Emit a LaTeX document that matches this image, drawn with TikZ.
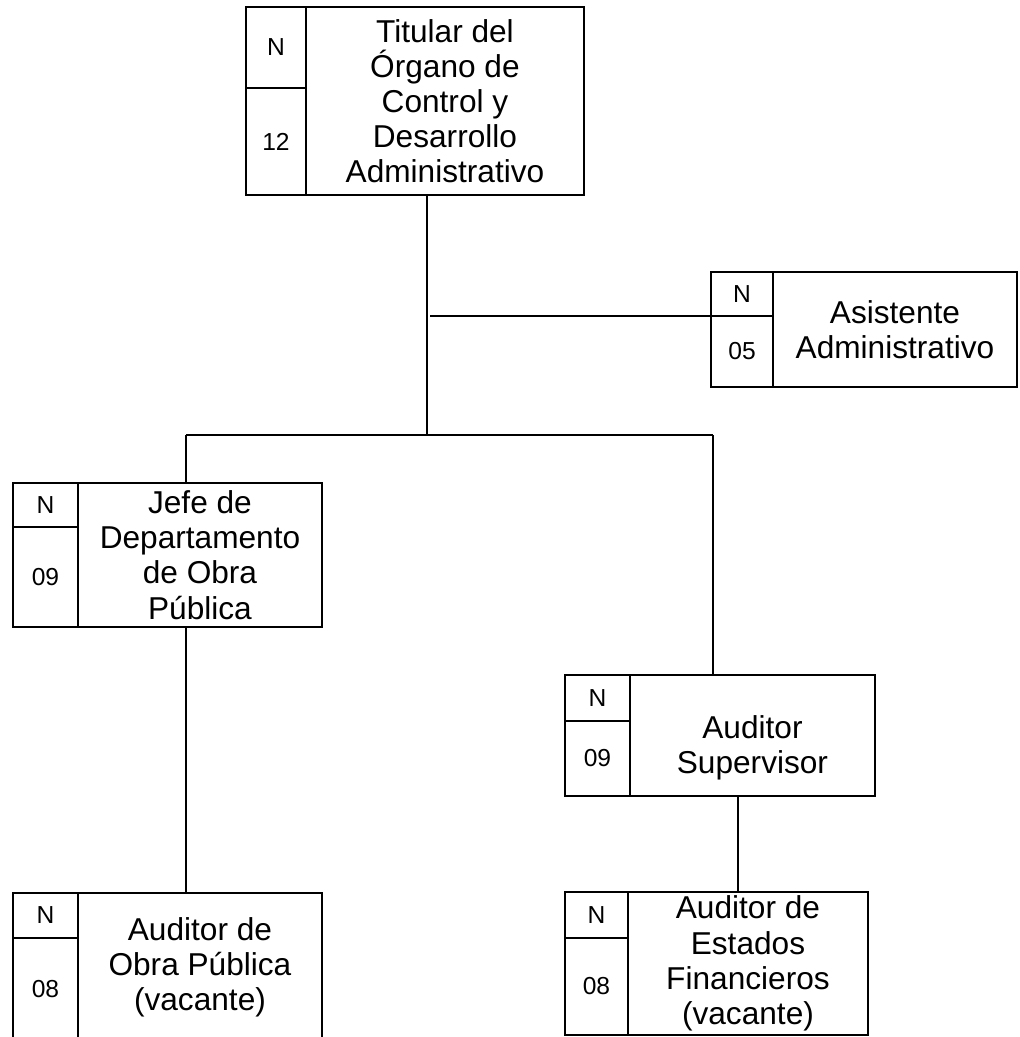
\documentclass[tikz,border=0pt]{standalone}
\usepackage{fontspec}
\setmainfont{Liberation Sans}
\usetikzlibrary{positioning, calc}

\begin{document}
\begin{tikzpicture}[
    x=0.02cm, y=-0.02cm,
    cell/.style={
        rectangle,
        draw=black,
        line width=1pt,
        inner sep=0pt,
        outer sep=0pt,
        font=\fontsize{14}{16}\selectfont
    },
    post/.style={
        rectangle,
        draw=black,
        line width=1pt,
        inner sep=0pt,
        outer sep=0pt,
        align=center,
        font=\fontsize{18}{20}\selectfont
    },
    link/.style={line width=1pt}
]
\useasboundingbox (0,0) rectangle (1020,1037);
\clip (0,0) rectangle (1020,1037);

% === Titular ===
\node[cell, anchor=north west, minimum width=1.2cm, minimum height=1.62cm] (titN) at (246,7) {N};
\node[cell, below=0pt of titN, minimum width=1.2cm, minimum height=2.14cm] (titG) {12};
\node[post, anchor=north west, minimum width=5.56cm, minimum height=3.76cm] (tit) at (titN.north east)
    {Titular del\\Órgano de\\Control y\\Desarrollo\\Administrativo};

% === Asistente ===
\node[cell, anchor=north west, minimum width=1.24cm, minimum height=0.88cm] (asisN) at (711,272) {N};
\node[cell, below=0pt of asisN, minimum width=1.24cm, minimum height=1.42cm] (asisG) {05};
\node[post, anchor=north west, minimum width=4.88cm, minimum height=2.3cm] (asis) at (asisN.north east)
    {Asistente\\Administrativo};

% === Jefe de Departamento ===
\node[cell, anchor=north west, minimum width=1.3cm, minimum height=0.88cm] (jefeN) at (13,483) {N};
\node[cell, below=0pt of jefeN, minimum width=1.3cm, minimum height=2cm] (jefeG) {09};
\node[post, anchor=north west, minimum width=4.88cm, minimum height=2.88cm] (jefe) at (jefeN.north east)
    {Jefe de\\Departamento\\de Obra\\Pública};

% === Auditor Supervisor ===
\node[cell, anchor=north west, minimum width=1.3cm, minimum height=0.92cm] (supN) at (565,675) {N};
\node[cell, below=0pt of supN, minimum width=1.3cm, minimum height=1.5cm] (supG) {09};
\node[post, anchor=north west, minimum width=4.9cm, minimum height=2.42cm,
    label={[align=center, font=\fontsize{18}{20}\selectfont, yshift=-0.24cm]center:Auditor\\Supervisor}]
    (sup) at (supN.north east) {};

% === Auditor de Obra Publica ===
\node[cell, anchor=north west, minimum width=1.3cm, minimum height=0.9cm] (aopN) at (13,893) {N};
\node[cell, below=0pt of aopN, minimum width=1.3cm, minimum height=2.06cm] (aopG) {08};
\node[post, anchor=north west, minimum width=4.88cm, minimum height=2.96cm] (aop) at (aopN.north east)
    {Auditor de\\Obra Pública\\(vacante)};

% === Auditor de Estados Financieros ===
\node[cell, anchor=north west, minimum width=1.26cm, minimum height=0.92cm] (aefN) at (565,892) {N};
\node[cell, below=0pt of aefN, minimum width=1.26cm, minimum height=1.94cm] (aefG) {08};
\node[post, anchor=north west, minimum width=4.8cm, minimum height=2.86cm] (aef) at (aefN.north east)
    {Auditor de\\Estados\\Financieros\\(vacante)};

% === Lines ===
\coordinate (hub) at (427,435);
\coordinate (asisjoin) at (430,316);
\coordinate (jefeup) at (186,435);
\coordinate (supup) at (713,435);
\coordinate (supdown) at (738,796);

\draw[link] (tit.south -| hub) -- (hub);
\draw[link] (asisjoin) -- (asisN.south west);
\draw[link] (jefeup) -- (supup);
\draw[link] (jefeup) -- (jefeup |- jefe.north);
\draw[link] (supup) -- (supup |- sup.north);
\draw[link] (jefeup |- jefe.south) -- (jefeup |- aop.north);
\draw[link] (supdown) -- (supdown |- aef.north);

\end{tikzpicture}
\end{document}
